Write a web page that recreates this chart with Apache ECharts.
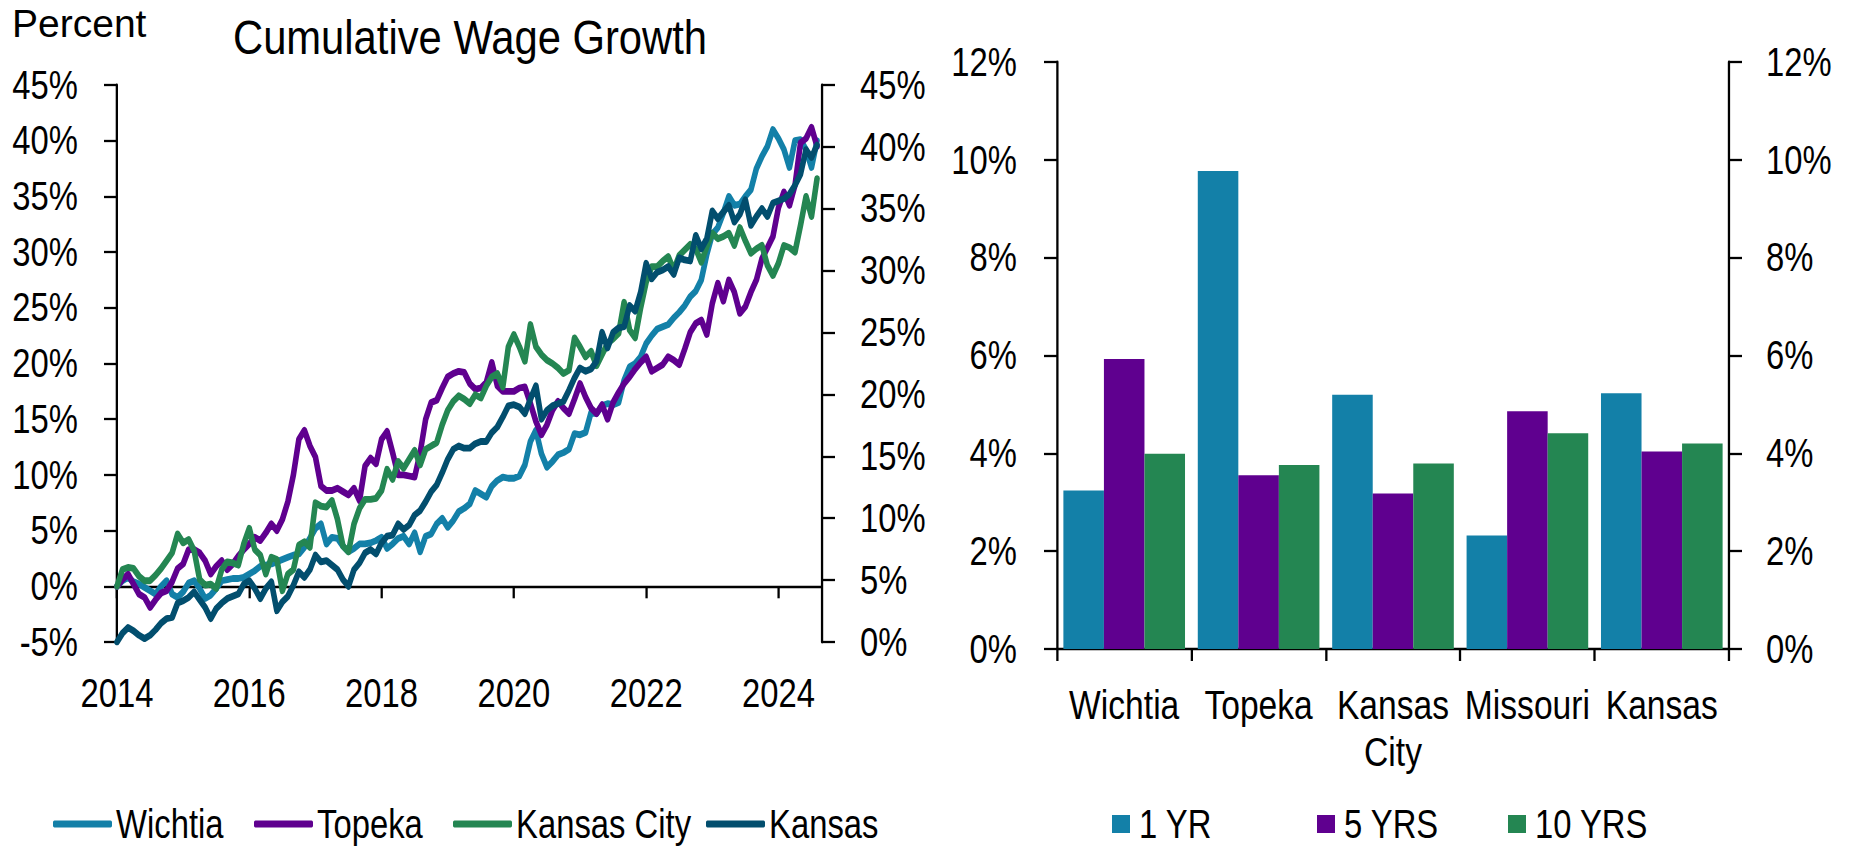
<!DOCTYPE html>
<html>
<head>
<meta charset="utf-8">
<script src="https://cdn.jsdelivr.net/npm/echarts@6/dist/echarts.min.js"></script>
<style>
  html, body { margin: 0; padding: 0; background: #fff; overflow: hidden; }
  #frame { width: 1855px; height: 849px; overflow: hidden; position: relative; }
  #chart { height: 849px; transform-origin: 0 0; }
</style>
</head>
<body>
<div id="frame"><div id="chart"></div></div>
<script>
// ---- Cumulative wage growth, monthly from Jan 2014 (percent) ----
const startYear = 2014;
const yearTicks = [2014, 2016, 2018, 2020, 2022, 2024];

const wichtia = [
  0.0, 0.5, 0.8, 0.4, 0.2, -0.1, -0.4, -0.7, 0.0, 0.5,
  -0.7, -1.0, -0.5, 0.3, 0.5, -0.2, -1.1, -0.8, -0.2, 0.5,
  0.6, 0.7, 0.7, 0.8, 1.1, 1.4, 1.8, 1.9, 2.0, 2.2,
  2.4, 2.6, 2.8, 2.9, 3.5, 4.3, 5.2, 5.6, 3.8, 4.4,
  4.3, 3.6, 3.1, 3.4, 3.8, 3.8, 3.9, 4.1, 4.4, 3.4,
  3.8, 4.3, 4.5, 3.8, 4.8, 3.1, 4.5, 4.7, 5.6, 6.1,
  5.3, 5.9, 6.7, 7.0, 7.4, 8.6, 8.3, 8.0, 9.0, 9.5,
  9.8, 9.7, 9.7, 9.9, 10.9, 13.0, 14.0, 11.9, 10.7, 11.2,
  11.8, 12.0, 12.3, 13.7, 13.6, 13.8, 15.6, 15.5, 16.2, 16.4,
  16.3, 16.5, 18.5, 19.7, 20.0, 20.6, 21.8, 22.5, 23.1, 23.3,
  23.5, 24.1, 24.6, 25.2, 26.0, 26.5, 27.5, 29.8, 31.6, 32.2,
  33.5, 35.0, 34.2, 34.3, 35.0, 35.6, 37.5, 38.6, 39.5, 41.0,
  40.2, 39.2, 37.6, 40.0, 40.1, 39.2, 37.6, 40.0
];

const topeka = [
  0.0, 0.6, 1.1, 0.2, -0.7, -1.0, -1.9, -1.2, -0.6, -0.4,
  0.4, 1.6, 2.0, 3.3, 3.3, 3.0, 2.3, 1.1, 1.8, 2.3,
  1.5, 2.0, 2.7, 3.3, 3.8, 4.4, 4.1, 4.8, 5.6, 5.0,
  6.0, 7.6, 10.0, 13.2, 14.0, 12.6, 11.6, 9.0, 8.6, 8.6,
  8.8, 8.5, 8.2, 8.8, 7.7, 10.8, 11.5, 11.0, 13.2, 13.9,
  12.0, 10.0, 10.0, 9.9, 9.8, 12.0, 15.0, 16.5, 16.7, 17.8,
  18.8, 19.1, 19.3, 19.2, 18.2, 17.7, 17.8, 18.3, 20.1, 18.0,
  17.5, 17.5, 17.5, 17.8, 17.9, 16.4, 14.8, 13.6, 14.5, 15.8,
  16.6, 16.0, 15.5, 16.8, 18.2, 17.0, 16.0, 15.5, 16.3, 15.0,
  16.5, 17.4, 18.2, 18.8, 19.5, 20.1, 20.6, 19.3, 19.6, 19.9,
  20.6, 20.3, 19.9, 21.3, 22.8, 23.6, 23.9, 22.6, 25.4, 27.2,
  25.6, 27.5, 26.4, 24.5, 25.1, 26.4, 27.5, 29.4, 30.4, 31.4,
  34.0, 35.4, 34.2, 36.0, 39.8, 40.2, 41.2, 39.5
];

const kansasCity = [
  0.0, 1.5, 1.7, 1.6, 0.9, 0.5, 0.5, 1.0, 1.6, 2.3,
  3.0, 4.7, 3.9, 4.2, 3.2, 0.6, 0.1, 0.2, -0.2, 1.5,
  2.2, 2.1, 1.9, 3.8, 5.2, 3.3, 2.8, 1.1, 2.6, 2.4,
  -0.4, 1.1, 1.5, 3.7, 4.0, 3.5, 7.5, 7.2, 7.1, 7.7,
  6.0, 3.6, 3.1, 5.6, 7.0, 7.8, 7.8, 7.9, 8.6, 10.5,
  9.6, 11.2, 10.6, 11.4, 12.2, 10.9, 12.3, 12.6, 12.9, 14.5,
  15.8, 16.6, 17.1, 16.8, 16.4, 17.2, 16.9, 18.0, 18.8, 19.1,
  17.9, 21.5, 22.6, 21.5, 20.2, 23.5, 21.5, 20.8, 20.3, 20.0,
  19.6, 19.1, 19.4, 22.3, 21.5, 20.6, 21.1, 19.8, 20.8, 21.8,
  22.2, 22.7, 25.5, 23.0, 22.3, 25.0, 27.3, 28.7, 28.7, 29.2,
  29.6, 28.4, 29.7, 30.2, 30.7, 30.3, 29.1, 30.5, 31.7, 31.2,
  31.4, 31.7, 30.6, 32.2, 31.0, 29.9, 30.3, 30.6, 28.8, 27.9,
  29.0, 30.6, 30.4, 30.0, 32.4, 35.0, 33.2, 36.6
];

const kansas = [
  -5.0, -4.2, -3.7, -4.0, -4.4, -4.7, -4.4, -3.9, -3.3, -2.9,
  -2.8, -1.5, -1.3, -1.0, -0.5, -1.2, -1.9, -2.9, -2.0, -1.5,
  -1.1, -0.9, -0.7, 0.2, 0.5, -0.2, -1.1, -0.2, 0.4, -2.2,
  -1.4, -0.9, 0.1, 1.3, 0.8, 1.5, 2.8, 2.2, 2.3, 1.9,
  1.5, 0.6, 0.0, 1.5, 2.1, 3.0, 3.3, 2.9, 3.9, 4.5,
  4.6, 5.6, 5.1, 5.5, 6.4, 6.8, 7.6, 8.5, 9.1, 10.2,
  11.4, 12.3, 12.6, 12.4, 12.4, 12.8, 13.0, 13.0, 13.8, 14.3,
  15.2, 16.2, 16.3, 16.1, 15.5, 16.8, 18.0, 15.0, 15.8, 16.2,
  16.4, 16.6, 17.6, 18.7, 19.6, 19.3, 19.5, 20.2, 22.8, 21.4,
  22.8, 23.2, 23.3, 25.2, 24.7, 26.4, 29.0, 27.6, 28.2, 28.4,
  28.7, 28.0, 29.5, 29.3, 29.2, 31.5, 30.3, 31.2, 33.7, 33.0,
  33.6, 34.2, 32.7, 33.4, 34.7, 32.4, 33.2, 33.9, 33.2, 34.4,
  34.6, 34.8, 35.2, 36.0, 37.0, 39.2, 38.5, 39.6
];

// ---- Annualized wage growth by horizon (percent) ----
const barCategories = ['Wichtia', 'Topeka', 'Kansas\nCity', 'Missouri', 'Kansas'];
const oneYear  = [3.24, 9.77, 5.20, 2.32, 5.23];
const fiveYear = [5.93, 3.55, 3.18, 4.86, 4.04];
const tenYear  = [3.99, 3.76, 3.79, 4.41, 4.20];

// ---- layout: the chart is drawn on a wider surface and squeezed
// horizontally, which gives Arial-Narrow-like lettering ----
const SX = 0.82;
const vx = px => px / SX;               // page x -> drawing-surface x
const chartEl = document.getElementById('chart');
chartEl.style.width = Math.round(1855 / SX) + 'px';
chartEl.style.transform = 'scaleX(' + SX + ')';

const FONT = "'Liberation Sans', Arial, sans-serif";
const INK = '#000000';
const C_BLUE = '#1380a8', C_PURPLE = '#5f008f', C_GREEN = '#248652', C_NAVY = '#024e6e';
const AX_H = { color: INK, width: 2.3 };            // horizontal strokes
const AX_V = { color: INK, width: 2.3 / SX };       // vertical strokes

const toPairs = arr => arr.map((v, i) => [startYear + i / 12, v]);
const xMax = startYear + 127.9 / 12;

function lineSeries(name, arr, color) {
  return {
    name, type: 'line', xAxisIndex: 0, yAxisIndex: 0,
    data: toPairs(arr), showSymbol: false, symbol: 'none',
    color, lineStyle: { color, width: 6.8, join: 'round', cap: 'round' },
    emphasis: { disabled: true }
  };
}
function barSeries(name, arr, color) {
  return {
    name, type: 'bar', xAxisIndex: 2, yAxisIndex: 2,
    data: arr, color, itemStyle: { color },
    barGap: '0%', barCategoryGap: '9.5%',
    emphasis: { disabled: true }
  };
}
const pctLabel = margin => ({
  formatter: '{value}%', margin: vx(margin), fontSize: 40, fontFamily: FONT, color: INK
});
const legendText = { fontSize: 40, fontFamily: FONT, color: INK };

function lineLegend(name, left) {
  return {
    data: [name], left: vx(left), top: 804, padding: 0, itemGap: 0,
    icon: 'roundRect', itemWidth: vx(59), itemHeight: 7,
    textStyle: legendText, selectedMode: false
  };
}
function barLegend(name, left) {
  return {
    data: [name], left: vx(left), top: 804, padding: 0, itemGap: 0,
    icon: 'rect', itemWidth: vx(18), itemHeight: 18,
    textStyle: Object.assign({ padding: [0, 0, 0, 6] }, legendText), selectedMode: false
  };
}

const chart = echarts.init(chartEl, null, { renderer: 'svg' });

chart.setOption({
  animation: false,
  backgroundColor: '#ffffff',
  textStyle: { fontFamily: FONT, color: INK },
  graphic: [
    { type: 'text', x: vx(12), y: 24, scaleX: 1 / SX,
      style: { text: 'Percent', fontSize: 39, fontFamily: FONT, fill: INK, align: 'left', verticalAlign: 'middle' } },
    { type: 'text', x: vx(470), y: 37, scaleX: 0.87 / SX,
      style: { text: 'Cumulative Wage Growth', fontSize: 48, fontFamily: FONT, fill: INK, align: 'center', verticalAlign: 'middle' } }
  ],
  grid: [
    { left: vx(117), top: 85, width: vx(705), height: 557 },
    { left: vx(1057), top: 62, width: vx(672), height: 587 }
  ],
  xAxis: [
    {
      gridIndex: 0, type: 'value', min: startYear, max: xMax,
      axisLine: { show: true, onZero: true, onZeroAxisIndex: 0, lineStyle: AX_H },
      axisTick: { show: true, customValues: yearTicks, length: 12, lineStyle: AX_V },
      axisLabel: { show: false }, splitLine: { show: false }
    },
    {
      gridIndex: 0, type: 'value', min: startYear, max: xMax, position: 'bottom',
      axisLine: { show: false, onZero: false }, axisTick: { show: false },
      axisLabel: { customValues: yearTicks, formatter: v => String(v), margin: 31,
                   fontSize: 40, lineHeight: 40, fontFamily: FONT, color: INK },
      splitLine: { show: false }
    },
    {
      gridIndex: 1, type: 'category', data: barCategories,
      axisLine: { show: true, lineStyle: AX_H },
      axisTick: { show: true, length: 12, lineStyle: AX_V },
      axisLabel: { interval: 0, margin: 32, fontSize: 41, lineHeight: 47, fontFamily: FONT, color: INK },
      splitLine: { show: false }
    }
  ],
  yAxis: [
    {
      gridIndex: 0, type: 'value', position: 'left', min: -5, max: 45, interval: 5,
      axisLine: { show: true, lineStyle: AX_V }, axisTick: { show: true, length: vx(13), lineStyle: AX_H },
      axisLabel: pctLabel(39), splitLine: { show: false }
    },
    {
      gridIndex: 0, type: 'value', position: 'right', min: 0, max: 45, interval: 5,
      axisLine: { show: true, lineStyle: AX_V }, axisTick: { show: true, length: vx(13), lineStyle: AX_H },
      axisLabel: pctLabel(38), splitLine: { show: false }
    },
    {
      gridIndex: 1, type: 'value', position: 'left', min: 0, max: 12, interval: 2,
      axisLine: { show: true, lineStyle: AX_V }, axisTick: { show: true, length: vx(13), lineStyle: AX_H },
      axisLabel: pctLabel(40), splitLine: { show: false }
    },
    {
      gridIndex: 1, type: 'value', position: 'right', min: 0, max: 12, interval: 2,
      axisLine: { show: true, lineStyle: AX_V }, axisTick: { show: true, length: vx(13), lineStyle: AX_H },
      axisLabel: pctLabel(37), splitLine: { show: false }
    }
  ],
  legend: [
    lineLegend('Wichtia', 53),
    lineLegend('Topeka', 254),
    lineLegend('Kansas City', 453),
    lineLegend('Kansas', 706),
    barLegend('1 YR', 1112),
    barLegend('5 YRS', 1317),
    barLegend('10 YRS', 1508)
  ],
  series: [
    lineSeries('Wichtia', wichtia, C_BLUE),
    lineSeries('Topeka', topeka, C_PURPLE),
    lineSeries('Kansas City', kansasCity, C_GREEN),
    lineSeries('Kansas', kansas, C_NAVY),
    barSeries('1 YR', oneYear, C_BLUE),
    barSeries('5 YRS', fiveYear, C_PURPLE),
    barSeries('10 YRS', tenYear, C_GREEN)
  ]
});
</script>
</body>
</html>
